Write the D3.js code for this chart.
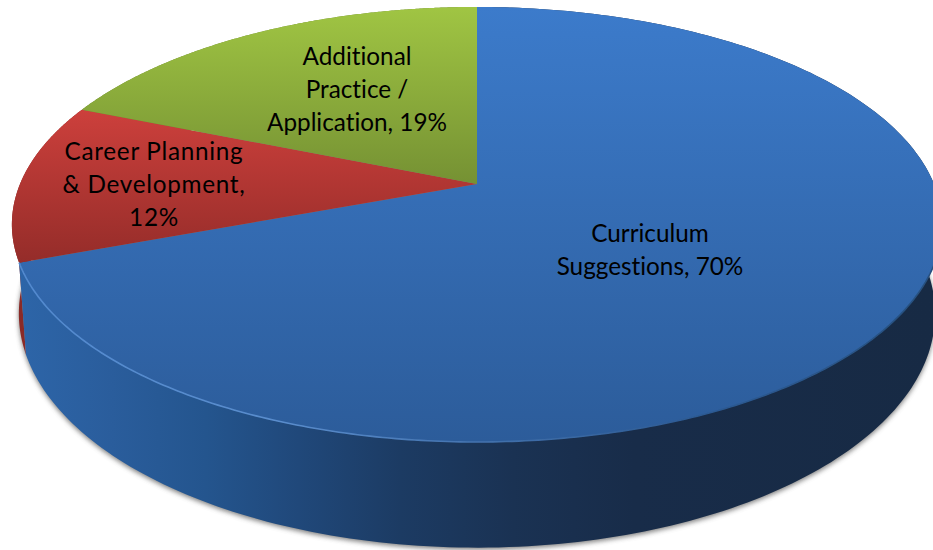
<!DOCTYPE html>
<html>
<head>
<meta charset="utf-8">
<script src="https://cdn.jsdelivr.net/npm/d3@7/dist/d3.min.js"></script>
<style>
html,body{margin:0;padding:0;background:#fff;overflow:hidden}
svg{display:block}
text{font-family:Lato,"Open Sans",sans-serif;fill:#000;font-variant-ligatures:none}
</style>
</head>
<body>
<svg id="chart" width="933" height="550"></svg>
<script>
// --- data ---
const categories = ["Curriculum Suggestions", "Career Planning & Development", "Additional Practice / Application"];
const values = [70, 12, 19];
const labelLines = [
  ["Curriculum", "Suggestions, {v}%"],
  ["Career Planning", "& Development,", "{v}%"],
  ["Additional", "Practice /", "Application, {v}%"]
];
const topColors = [["#3c7bcb", "#2c5c9a"], ["#cd403c", "#942c29"], ["#a0c543", "#75913"+"3"]];

// --- layout ---
const W = 933, H = 550;
const cx = 477, cy = 184, f = 457, k = 210, p = 0.186, drop = 86, shrink = 0.985;
const labelPos = [[650, 242], [154, 160], [357, 65]];
const labelTracking = [0, 0.7, 0];
const lineH = 33, fontSize = 24.3;

const svg = d3.select("#chart");
const defs = svg.append("defs");

function project(theta, depth) {
  const X = Math.sin(theta), Y = -Math.cos(theta), w = 1 - p * Y;
  const sx = depth ? shrink : 1;
  return [cx + f * X / w * sx, cy + (k * Y + depth * drop) / w];
}
const arcPts = (a0, a1, depth) => d3.range(0, 241).map(i => project(a0 + (a1 - a0) * i / 240, depth));
const line = d3.line();

const arcs = d3.pie().sort(null).value(d => d)(values);

// gradients
const vGrad = (id, y0, y1, c0, c1) => {
  const g = defs.append("linearGradient").attr("id", id).attr("gradientUnits", "userSpaceOnUse")
    .attr("x1", 0).attr("x2", 0).attr("y1", y0).attr("y2", y1);
  g.append("stop").attr("offset", 0).attr("stop-color", c0);
  g.append("stop").attr("offset", 1).attr("stop-color", c1);
};
vGrad("top0", 7, 442, ...topColors[0]);
vGrad("top1", 108, 264, ...topColors[1]);
vGrad("top2", 7, 184, ...topColors[2]);

const hGrad = (id, stops) => {
  const g = defs.append("linearGradient").attr("id", id).attr("gradientUnits", "userSpaceOnUse")
    .attr("x1", 0).attr("x2", W).attr("y1", 0).attr("y2", 0);
  stops.forEach(([o, c]) => g.append("stop").attr("offset", o).attr("stop-color", c));
};
hGrad("side0", [[0.02, "#2d65a8"], [0.12, "#2a5d9c"], [0.22, "#24558e"], [0.32, "#20487a"], [0.43, "#1c3b63"], [0.55, "#1a3253"], [0.68, "#182c49"], [1, "#172a44"]]);
hGrad("bevel", [[0, "#5189cf"], [0.3, "#5a8dcd"], [0.55, "#3f6ea9"], [0.75, "#2c5a93"], [1, "#27507f"]]);
const sideRed = "#8a2a27", sideGreen = "#6a8530";

defs.append("filter").attr("id", "shadow").attr("x", "-5%").attr("y", "-5%").attr("width", "110%").attr("height", "115%")
  .append("feGaussianBlur").attr("stdDeviation", 2.5);
defs.append("filter").attr("id", "soft").attr("x", "-5%").attr("y", "-5%").attr("width", "110%").attr("height", "115%")
  .append("feGaussianBlur").attr("stdDeviation", 0.5);

// drop shadow of the disc's lower face
const shadowPts = arcPts(0, 2 * Math.PI, 1).map(([x, y]) => [x, y + 2]);
svg.append("path").attr("d", line(shadowPts) + "Z").attr("fill", "#555").attr("opacity", 0.75).attr("filter", "url(#shadow)");

// sides: back slices first so the large slice overlaps them
const sideFill = ["url(#side0)", sideRed, sideGreen];
[2, 1, 0].forEach(i => {
  const a = arcs[i];
  const pts = arcPts(a.startAngle, a.endAngle, 0).concat(arcPts(a.startAngle, a.endAngle, 1).reverse());
  svg.append("path").attr("d", line(pts) + "Z").attr("fill", sideFill[i]);
});

// top faces
arcs.forEach((a, i) => {
  const pts = [[cx, cy]].concat(arcPts(a.startAngle, a.endAngle, 0));
  svg.append("path").attr("d", line(pts) + "Z").attr("fill", `url(#top${i})`);
});

// bevel highlight along the front rim of the large slice
const rimStart = Math.PI * 0.5;
svg.append("path")
  .attr("d", line(arcPts(rimStart, arcs[0].endAngle, 0)))
  .attr("fill", "none").attr("stroke", "url(#bevel)").attr("stroke-width", 1.6).attr("filter", "url(#soft)");

// labels
labelLines.forEach((lines, i) => {
  const t = svg.append("text").attr("text-anchor", "middle").attr("font-size", fontSize)
    .attr("letter-spacing", labelTracking[i]);
  lines.forEach((s, j) => {
    t.append("tspan").attr("x", labelPos[i][0]).attr("y", labelPos[i][1] + j * lineH)
      .text(s.replace("{v}", values[i]));
  });
});
</script>
</body>
</html>
